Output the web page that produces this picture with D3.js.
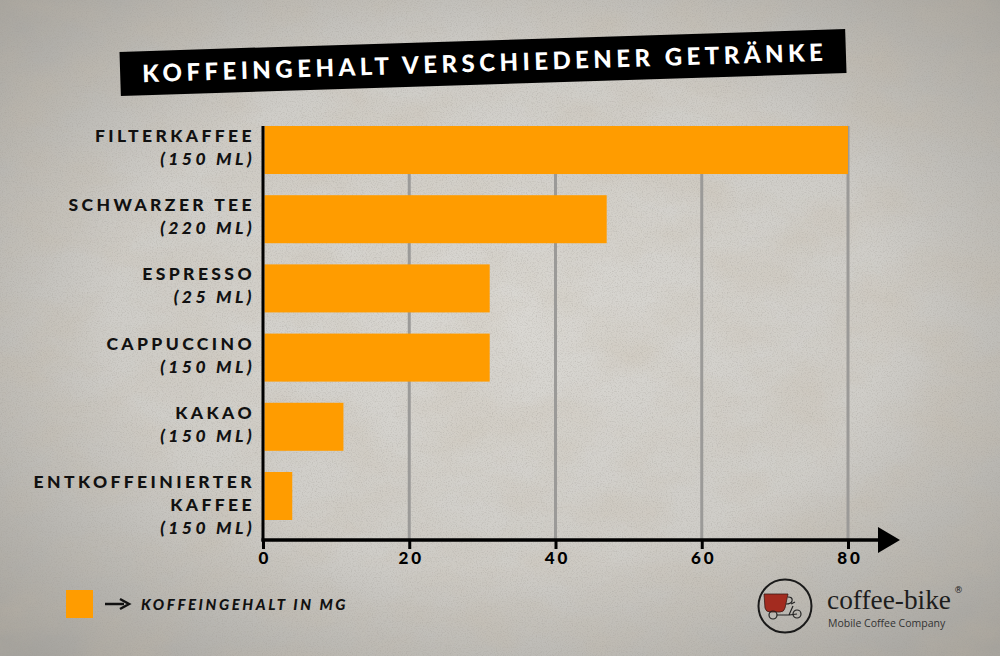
<!DOCTYPE html>
<html>
<head>
<meta charset="utf-8">
<script src="https://cdn.jsdelivr.net/npm/d3@7"></script>
<style>
  html, body { margin: 0; padding: 0; background: #c9c7c2; }
  svg { display: block; }
</style>
</head>
<body>
<div id="chart"></div>
<script>
// drink names (one entry per line) and serving size
const nameLines = [
  ["FILTERKAFFEE"],
  ["SCHWARZER TEE"],
  ["ESPRESSO"],
  ["CAPPUCCINO"],
  ["KAKAO"],
  ["ENTKOFFEINIERTER", "KAFFEE"]
]
const volumes = ["(150 ML)", "(220 ML)", "(25 ML)", "(150 ML)", "(150 ML)", "(150 ML)"]
// caffeine in mg
const caffeine = [80, 47, 31, 31, 11, 4]
const tickValues = [0, 20, 40, 60, 80]

const title = "KOFFEINGEHALT VERSCHIEDENER GETRÄNKE"
const legendLabel = "KOFFEINGEHALT IN MG"

const width = 1000
const height = 656
const orange = "#ff9c00"
const labelFont = "Lato, 'Open Sans', sans-serif"

const dataset = caffeine.map((v, i) => ({
  id: i,
  lines: nameLines[i],
  volume: volumes[i],
  value: v
}))

const svg = d3.select("#chart").append("svg")
  .attr("width", width)
  .attr("height", height)

// ---- background texture ----
const defs = svg.append("defs")

const vign = defs.append("radialGradient")
  .attr("id", "vign")
  .attr("cx", "50%").attr("cy", "48%").attr("r", "70%")
vign.append("stop").attr("offset", "0%").attr("stop-color", "#dad8d3")
vign.append("stop").attr("offset", "55%").attr("stop-color", "#cfcdc8")
vign.append("stop").attr("offset", "100%").attr("stop-color", "#a4a29d")

const grain = defs.append("filter").attr("id", "grain")
  .attr("x", 0).attr("y", 0).attr("width", "100%").attr("height", "100%")
grain.append("feTurbulence")
  .attr("type", "fractalNoise")
  .attr("baseFrequency", 0.8)
  .attr("numOctaves", 2)
  .attr("seed", 3)
grain.append("feColorMatrix")
  .attr("values", "0 0 0 0 0.35  0 0 0 0 0.33  0 0 0 0 0.30  0 0 0 -1.4 0.75")

const blotch = defs.append("filter").attr("id", "blotch")
  .attr("x", 0).attr("y", 0).attr("width", "100%").attr("height", "100%")
blotch.append("feTurbulence")
  .attr("type", "fractalNoise")
  .attr("baseFrequency", "0.012 0.02")
  .attr("numOctaves", 4)
  .attr("seed", 7)
blotch.append("feColorMatrix")
  .attr("values", "0 0 0 0 0.55  0 0 0 0 0.47  0 0 0 0 0.36  1.3 0 0 0 -0.45")

svg.append("rect").attr("width", width).attr("height", height).attr("fill", "url(#vign)")
svg.append("rect").attr("width", width).attr("height", height)
  .attr("filter", "url(#blotch)").attr("opacity", 0.4)
svg.append("rect").attr("width", width).attr("height", height)
  .attr("filter", "url(#grain)").attr("opacity", 0.6)

// ---- scales ----
const xScale = d3.scaleLinear()
  .domain([0, 80])
  .range([263, 848])

const yScale = d3.scaleBand()
  .domain(dataset.map(d => d.id))
  .range([126, 520])
  .paddingInner(0.306)
  .paddingOuter(0)

const axisY = 540

// ---- title banner ----
const banner = svg.append("g")
  .attr("transform", "translate(483,62.5) rotate(-1.8)")
banner.append("rect")
  .attr("x", -363).attr("y", -22)
  .attr("width", 726).attr("height", 44)
  .attr("fill", "#000")
banner.append("text")
  .attr("x", -341).attr("y", 9)
  .attr("textLength", 681)
  .attr("lengthAdjust", "spacing")
  .attr("fill", "#fff")
  .style("font-family", labelFont)
  .style("font-weight", 900)
  .style("font-size", "24px")
  .text(title)

// ---- grid ----
const graphGroup = svg.append("g")

graphGroup.selectAll(".grid")
  .data(tickValues.filter(t => t > 0))
  .enter().append("line")
  .attr("class", "grid")
  .attr("x1", d => xScale(d)).attr("x2", d => xScale(d))
  .attr("y1", 126).attr("y2", axisY)
  .attr("stroke", "#9b9a98")
  .attr("stroke-width", 3)

// ---- bars ----
graphGroup.selectAll(".bar")
  .data(dataset)
  .enter().append("rect")
  .attr("class", "bar")
  .attr("x", xScale(0) + 1.5)
  .attr("y", d => yScale(d.id))
  .attr("width", d => xScale(d.value) - xScale(0) - 1.5)
  .attr("height", yScale.bandwidth())
  .attr("fill", orange)

// ---- x axis ----
const xAxis = d3.axisBottom(xScale)
  .tickValues(tickValues)
  .tickSize(9)
  .tickSizeOuter(0)
  .tickPadding(2)

const xAxisG = graphGroup.append("g")
  .attr("transform", "translate(0," + axisY + ")")
  .call(xAxis)
xAxisG.select(".domain").remove()
xAxisG.selectAll(".tick line")
  .attr("stroke", "#000")
  .attr("stroke-width", 3)
xAxisG.selectAll(".tick text")
  .attr("fill", "#000")
  .attr("dy", "0.78em")
  .attr("dx", "1.5px")
  .style("font-family", labelFont)
  .style("font-weight", 900)
  .style("font-size", "17px")
  .style("letter-spacing", "3px")

graphGroup.append("line")
  .attr("x1", xScale(0) - 1.5).attr("x2", 880)
  .attr("y1", axisY).attr("y2", axisY)
  .attr("stroke", "#000").attr("stroke-width", 3.5)
graphGroup.append("path")
  .attr("d", `M878,${axisY - 13} L900,${axisY} L878,${axisY + 13} Z`)
  .attr("fill", "#000")

// ---- y axis ----
graphGroup.append("line")
  .attr("x1", xScale(0)).attr("x2", xScale(0))
  .attr("y1", 126).attr("y2", axisY + 1.5)
  .attr("stroke", "#000").attr("stroke-width", 3)

const labelG = graphGroup.selectAll(".ylabel")
  .data(dataset)
  .enter().append("text")
  .attr("class", "ylabel")
  .attr("text-anchor", "end")
  .attr("fill", "#111")
  .style("font-family", labelFont)
  .style("font-weight", 900)
  .style("font-size", "17.5px")
  .style("letter-spacing", "3.4px")

labelG.each(function(d) {
  const t = d3.select(this)
  const top = yScale(d.id) + 16
  d.lines.forEach((line, i) => {
    t.append("tspan")
      .attr("x", 255)
      .attr("y", top + i * 23)
      .text(line)
  })
  t.append("tspan")
    .attr("x", 255)
    .attr("y", top + d.lines.length * 23)
    .style("font-style", "italic")
    .text(d.volume)
})

// ---- legend ----
const legend = svg.append("g")
legend.append("rect")
  .attr("x", 66).attr("y", 590)
  .attr("width", 27).attr("height", 28)
  .attr("fill", orange)
legend.append("line")
  .attr("x1", 105).attr("x2", 124)
  .attr("y1", 604).attr("y2", 604)
  .attr("stroke", "#111").attr("stroke-width", 2.5)
legend.append("path")
  .attr("d", "M120,599 L129,604 L120,609")
  .attr("fill", "none")
  .attr("stroke", "#111").attr("stroke-width", 2.5)
legend.append("text")
  .attr("x", 141).attr("y", 610)
  .attr("fill", "#111")
  .style("font-family", labelFont)
  .style("font-weight", 900)
  .style("font-style", "italic")
  .style("font-size", "15px")
  .style("letter-spacing", "2.6px")
  .text(legendLabel)

// ---- logo ----
const logo = svg.append("g").attr("transform", "translate(785,606)")
logo.append("circle")
  .attr("r", 26.5)
  .attr("fill", "none")
  .attr("stroke", "#1a1a1a")
  .attr("stroke-width", 2)
logo.append("path")
  .attr("d", "M-21,-12 L3,-12 L0,2 Q-1,6 -5,6 L-15,6 Q-19,6 -20,2 Z")
  .attr("fill", "#a32b1f")
  .attr("stroke", "#3a1a15").attr("stroke-width", 0.8)
logo.append("path")
  .attr("d", "M3,-9 Q8,-9 7,-5 Q6,-2 1,-2")
  .attr("fill", "none").attr("stroke", "#222").attr("stroke-width", 1.2)
logo.append("circle").attr("cx", -12).attr("cy", 9).attr("r", 4)
  .attr("fill", "none").attr("stroke", "#222").attr("stroke-width", 1.2)
logo.append("circle").attr("cx", 12).attr("cy", 8).attr("r", 4)
  .attr("fill", "none").attr("stroke", "#222").attr("stroke-width", 1.2)
logo.append("path")
  .attr("d", "M-8,9 L4,9 L8,0 M4,9 L12,8 M6,-2 L10,-4")
  .attr("fill", "none").attr("stroke", "#222").attr("stroke-width", 1.2)

svg.append("text")
  .attr("x", 827).attr("y", 609)
  .attr("textLength", 124)
  .attr("lengthAdjust", "spacingAndGlyphs")
  .attr("fill", "#1d1d1d")
  .style("font-family", "'Liberation Serif', 'DejaVu Serif', serif")
  .style("font-size", "27px")
  .text("coffee-bike")
svg.append("text")
  .attr("x", 954).attr("y", 593)
  .attr("fill", "#1d1d1d")
  .style("font-family", "'DejaVu Sans', sans-serif")
  .style("font-size", "9px")
  .text("®")
svg.append("text")
  .attr("x", 828).attr("y", 627)
  .attr("fill", "#333")
  .style("font-family", "'Open Sans', sans-serif")
  .style("font-size", "10.5px")
  .text("Mobile Coffee Company")
</script>
</body>
</html>
